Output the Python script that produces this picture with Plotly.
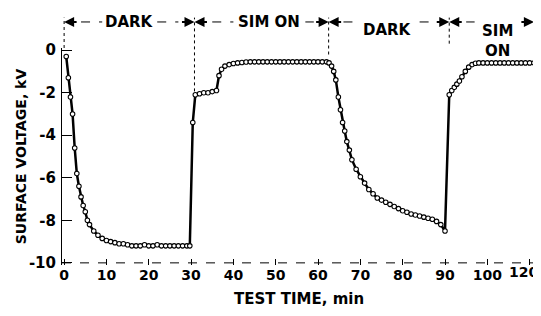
import plotly.graph_objects as go

# Data
time_min = [0.5, 1, 1.5, 2, 2.5, 3, 3.5, 4, 4.5, 5, 5.5, 6, 7, 8, 9, 10, 11, 12, 13, 14, 15,
            16, 17, 18, 19, 20, 21, 22, 23, 24, 25, 26, 27, 28, 29, 29.7,
            30.4, 31, 32, 33, 34, 35, 36, 36.6, 37.2, 38, 39, 40, 41, 42, 43, 44, 45, 46, 47,
            48, 49, 50, 51, 52, 53, 54, 55, 56, 57, 58, 59, 60, 61, 62, 62.6, 63.2,
            63.7, 64.2, 64.8, 65.3, 65.8, 66.3, 66.8, 67.4, 68, 69, 70, 71, 72, 73, 74, 75, 76,
            77, 78, 79, 80, 81, 82, 83, 84, 85, 86, 87, 88, 89, 90, 91, 91.6, 92.2, 92.8,
            93.4, 94, 94.8, 95.6, 96.4, 97.2, 98, 99, 100, 101, 102, 103, 104, 105, 106, 107,
            108, 109, 110, 111]
voltage_kv = [-0.3, -1.3, -2.2, -3.0, -4.6, -5.8, -6.4, -6.9, -7.3, -7.6, -8.0, -8.2, -8.5,
              -8.7, -8.85, -8.95, -9.0, -9.05, -9.1, -9.1, -9.15, -9.2, -9.2, -9.2, -9.15,
              -9.2, -9.2, -9.15, -9.2, -9.2, -9.2, -9.2, -9.2, -9.2, -9.2, -9.2,
              -3.4, -2.1, -2.05, -2.0, -2.0, -1.95, -1.9, -1.2, -0.9, -0.75, -0.68, -0.63,
              -0.6, -0.58, -0.56, -0.55, -0.55, -0.55, -0.55, -0.55, -0.55, -0.55, -0.55,
              -0.55, -0.55, -0.55, -0.55, -0.55, -0.55, -0.55, -0.55, -0.55, -0.55, -0.55,
              -0.6, -0.75, -1.0, -1.4, -2.2, -2.8, -3.4, -3.8, -4.3, -4.7, -5.15, -5.6,
              -5.95, -6.25, -6.55, -6.75, -6.95, -7.05, -7.15, -7.25, -7.35, -7.45, -7.55,
              -7.62, -7.7, -7.75, -7.8, -7.85, -7.9, -7.95, -8.05, -8.2, -8.5, -2.1, -1.9,
              -1.75, -1.6, -1.45, -1.25, -1.0, -0.8, -0.68, -0.62, -0.6, -0.6, -0.6, -0.6,
              -0.6, -0.6, -0.6, -0.6, -0.6, -0.6, -0.6, -0.6, -0.6, -0.6]

x_tick_vals = [0, 10, 20, 30, 40, 50, 60, 70, 80, 90, 100, 110]
x_tick_text = ["0", "10", "20", "30", "40", "50", "60", "70", "80", "90", "100", "120"]
y_tick_vals = [0, -2, -4, -6, -8, -10]
y_tick_text = ["0", "-2", "-4", "-6", "-8", "-10"]

# Phase boundaries and labels
boundaries = [0, 30.8, 62.5, 91, 111]
phase_labels = ["DARK", "SIM ON", "DARK", "SIM<br>ON"]
label_x = [15.5, 48.5, 76.5, 102.5]
label_y = [1.12, 1.12, 1.085, 1.03]

FONT = "DejaVu Sans, sans-serif"

fig = go.Figure()
fig.add_trace(go.Scatter(
    x=time_min, y=voltage_kv, mode="lines+markers",
    line=dict(color="black", width=2.5),
    marker=dict(symbol="circle", size=4.5, color="white",
                line=dict(color="black", width=1.1)),
    showlegend=False, cliponaxis=False,
))

shapes = []
# bottom dashed axis
shapes.append(dict(type="line", xref="paper", yref="y", x0=0, x1=1, y0=-10.0, y1=-10.0,
                   line=dict(color="black", width=1, dash="dash")))
# boundary dotted lines
bnd_bottom = [1.0, 0.8, 0.97, 1.02, 0.93]
for b, yb in zip(boundaries, bnd_bottom):
    shapes.append(dict(type="line", xref="x", yref="paper", x0=b, x1=b, y0=yb, y1=1.14,
                       line=dict(color="black", width=1, dash="dot")))

annotations = []
for txt, lx, ly in zip(phase_labels, label_x, label_y):
    annotations.append(dict(x=lx, y=ly, xref="x", yref="paper", text="<b>" + txt + "</b>",
                            xanchor="center", yanchor="middle",
                            showarrow=False, font=dict(family=FONT, size=15, color="black")))
# arrows at boundaries
for i, b in enumerate(boundaries):
    if i > 0:
        annotations.append(dict(x=b, y=1.12, xref="x", yref="paper", text="", showarrow=True,
                                ax=-14, ay=0, arrowhead=2, arrowsize=1, arrowwidth=2,
                                arrowcolor="black"))
    if i < len(boundaries) - 1:
        annotations.append(dict(x=b, y=1.12, xref="x", yref="paper", text="", showarrow=True,
                                ax=14, ay=0, arrowhead=2, arrowsize=1, arrowwidth=2,
                                arrowcolor="black"))
# dashed leaders between arrows and labels
leaders = [(4, 9), (22, 27), (35, 40), (57, 59), (66, 69), (84, 87), (95, 97)]
for a, c in leaders:
    shapes.append(dict(type="line", xref="x", yref="paper", x0=a, x1=c, y0=1.12, y1=1.12,
                       line=dict(color="black", width=1, dash="dash")))

# last x tick label drawn as an annotation so it stays inside the picture
axis_ticktext = x_tick_text[:-1] + [""]
annotations.append(dict(x=x_tick_vals[-1], y=-10.1, xref="x", yref="y",
                        text="<b>" + x_tick_text[-1] + "</b>", showarrow=False,
                        xanchor="right", yanchor="top", xshift=10, yshift=3,
                        font=dict(family=FONT, size=14, color="black")))

annotations.append(dict(x=0.5, y=-0.155, xref="paper", yref="paper",
                        xanchor="center", yanchor="middle",
                        text="<b>TEST TIME, min</b>", showarrow=False,
                        font=dict(family=FONT, size=15, color="black")))
annotations.append(dict(x=-0.087, y=0.5, xref="paper", yref="paper",
                        xanchor="center", yanchor="middle",
                        text="<b>SURFACE VOLTAGE, kV</b>", showarrow=False, textangle=-90,
                        font=dict(family=FONT, size=14, color="black")))

fig.update_layout(
    width=533, height=308,
    margin=dict(l=54, r=5, t=40, b=51),
    paper_bgcolor="white", plot_bgcolor="white",
    shapes=shapes, annotations=annotations,
    xaxis=dict(range=[-0.5, 111.5], tickvals=x_tick_vals, ticktext=axis_ticktext,
               ticks="inside", ticklen=6, tickcolor="black", showgrid=False,
               zeroline=False, showline=False, automargin=False,
               ticklabeloverflow="allow",
               tickfont=dict(family=FONT, size=14, color="black", weight="bold")),
    yaxis=dict(range=[-10.1, 0.1], tickvals=y_tick_vals, ticktext=y_tick_text,
               ticks="inside", ticklen=10, tickcolor="black", showgrid=False,
               zeroline=False, showline=True, linecolor="black", linewidth=1,
               ticklabelstandoff=2, automargin=False,
               tickfont=dict(family=FONT, size=15, color="black", weight="bold")),
)

fig.write_html("out.html")
